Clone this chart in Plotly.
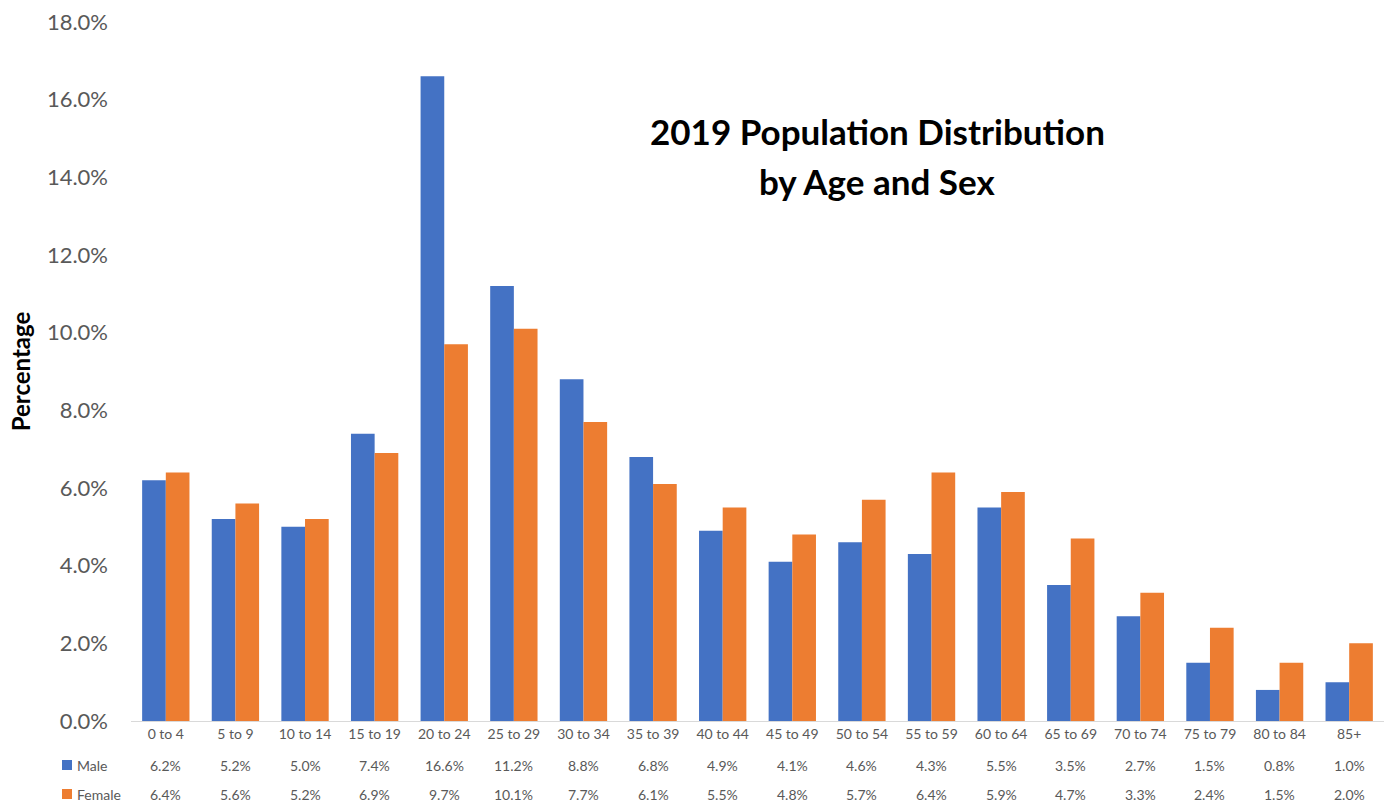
import plotly.graph_objects as go

categories = ["0 to 4", "5 to 9", "10 to 14", "15 to 19", "20 to 24", "25 to 29",
              "30 to 34", "35 to 39", "40 to 44", "45 to 49", "50 to 54", "55 to 59",
              "60 to 64", "65 to 69", "70 to 74", "75 to 79", "80 to 84", "85+"]
male = [6.2, 5.2, 5.0, 7.4, 16.6, 11.2, 8.8, 6.8, 4.9, 4.1, 4.6, 4.3, 5.5, 3.5, 2.7, 1.5, 0.8, 1.0]
female = [6.4, 5.6, 5.2, 6.9, 9.7, 10.1, 7.7, 6.1, 5.5, 4.8, 5.7, 6.4, 5.9, 4.7, 3.3, 2.4, 1.5, 2.0]
series_names = ["Male", "Female"]
colors = ["#4472C4", "#ED7D31"]
title_lines = ["2019 Population Distribution", "by Age and Sex"]
y_ticks = [0, 2, 4, 6, 8, 10, 12, 14, 16, 18]

FONT = "Lato"
GREY = "#595959"

fig = go.Figure()
for name, vals, col in zip(series_names, [male, female], colors):
    fig.add_trace(go.Bar(x=categories, y=vals, name=name, marker_color=col,
                         marker_line_width=0, showlegend=False))

annotations = []
shapes = []
row_shift = [-44, -73]
for r, (name, vals, col) in enumerate(zip(series_names, [male, female], colors)):
    for c, v in zip(categories, vals):
        annotations.append(dict(x=c, xref="x", y=0, yref="paper", yshift=row_shift[r],
                                text=f"{v:.1f}%", showarrow=False, yanchor="middle",
                                font=dict(family=FONT, size=14, color=GREY)))
    annotations.append(dict(x=0, xref="paper", xshift=-56, y=0, yref="paper",
                            yshift=row_shift[r], text=name, showarrow=False,
                            xanchor="left", yanchor="middle",
                            font=dict(family=FONT, size=14, color=GREY)))
    shapes.append(dict(type="rect", xref="paper", yref="paper", xsizemode="pixel",
                       ysizemode="pixel", xanchor=0, yanchor=0,
                       x0=-69, x1=-59, y0=row_shift[r] - 5, y1=row_shift[r] + 5,
                       fillcolor=col, line_width=0))

for line, ypx in zip(title_lines, [131, 181]):
    annotations.append(dict(x=0.5955, xref="paper", y=1 - (ypx - 22) / 699, yref="paper",
                            yanchor="middle", text=f"<b>{line}</b>", showarrow=False,
                            font=dict(family=FONT, size=35, color="#000000"),
                            align="center"))

fig.update_layout(
    width=1390, height=802,
    margin=dict(l=131, r=6, t=22, b=81),
    paper_bgcolor="white", plot_bgcolor="white",
    barmode="group", bargap=0.32, bargroupgap=0,
    annotations=annotations, shapes=shapes,
    font=dict(family=FONT, color=GREY),
)
fig.update_xaxes(showgrid=False, showline=True, linecolor="#D9D9D9", linewidth=1,
                 ticks="", tickfont=dict(family=FONT, size=14, color=GREY))
fig.update_yaxes(range=[0, 18], tickvals=y_ticks,
                 ticktext=[f"{t:.1f}%" for t in y_ticks],
                 showgrid=False, showline=False, zeroline=False, ticks="",
                 ticklabelstandoff=22,
                 tickfont=dict(family=FONT, size=22, color=GREY),
                 title=dict(text="<b>Percentage</b>", standoff=9,
                            font=dict(family=FONT, size=24, color="#000000")))
fig.write_html("out.html", config={"displayModeBar": False},
               post_script="document.body.style.margin='0';document.body.style.overflow='hidden';")
